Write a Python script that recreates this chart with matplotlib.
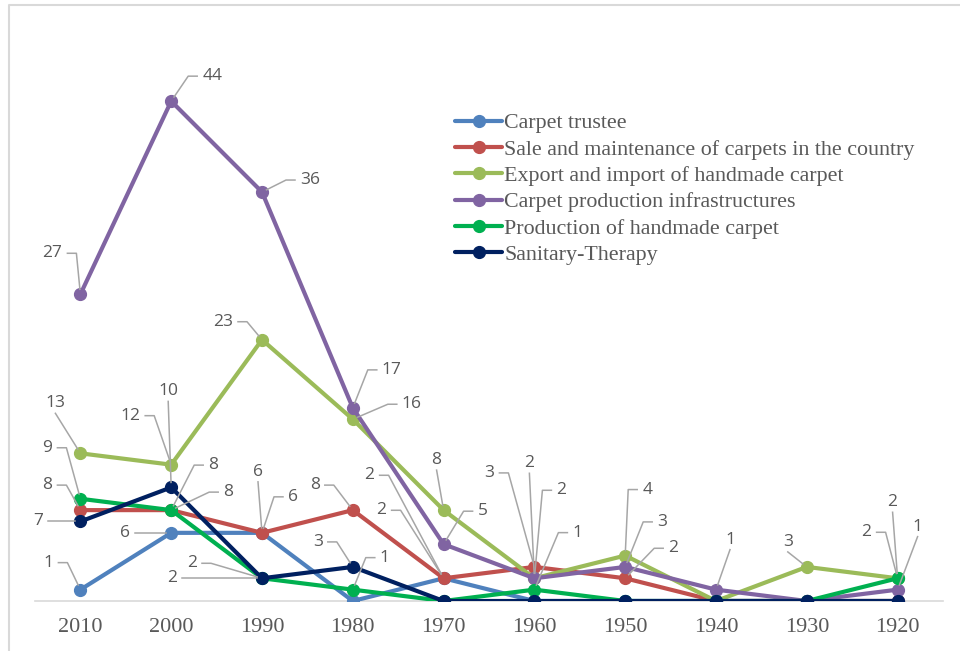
import matplotlib
matplotlib.use('Agg')
import matplotlib.pyplot as plt
from matplotlib.lines import Line2D
from matplotlib.transforms import IdentityTransform
import numpy as np

# 年代 (左新右舊)
years = ['2010', '2000', '1990', '1980', '1970', '1960', '1950', '1940', '1930', '1920']

trustee = [1, 6, 6, 0, 2, 0, 0, 0, 0, 0]
sale = [8, 8, 6, 8, 2, 3, 2, 0, 0, 0]
export = [13, 12, 23, 16, 8, 2, 4, 0, 3, 2]
infra = [27, 44, 36, 17, 5, 2, 3, 1, 0, 1]
production = [9, 8, 2, 1, 0, 1, 0, 0, 0, 2]
sanitary = [7, 10, 2, 3, 0, 0, 0, 0, 0, 0]

names = ['Carpet trustee',
         'Sale and maintenance of carpets in the country',
         'Export and import of handmade carpet',
         'Carpet production infrastructures',
         'Production of handmade carpet',
         'Sanitary-Therapy']

series = [trustee, sale, export, infra, production, sanitary]
colors = ['#4F81BD', '#C0504D', '#9BBB59', '#8064A2', '#00B050', '#002060']

# 數據標籤位置 (序列, 索引, dx, dy 像素, 引線型式)
label_pos = [
    (3, 0, -28, 41, 'h'), (3, 1, 41, 25, 'h'), (3, 2, 48, 12, 'h'), (3, 3, 39, 38, 'h'),
    (3, 4, 39, 33, 'h'), (3, 5, -5, 115, 'v'), (3, 6, 37, 45, 'h'), (3, 7, 14, 50, 'v'),
    (3, 9, 20, 63, 'v'),
    (2, 0, -25, 50, 'v'), (2, 1, -41, 49, 'h'), (2, 2, -39, 18, 'h'), (2, 3, 59, 15, 'h'),
    (2, 4, -7, 50, 'v'), (2, 5, 27, 88, 'h'), (2, 6, 22, 66, 'h'), (2, 8, -19, 25, 'v'),
    (2, 9, -31, 46, 'h'),
    (1, 0, -33, 25, 'h'), (1, 1, 57, 18, 'h'), (1, 2, -4, 61, 'v'), (1, 3, -38, 25, 'h'),
    (1, 4, -74, 103, 'h'), (1, 5, -45, 94, 'h'), (1, 6, 48, 30, 'h'),
    (0, 0, -32, 27, 'h'), (0, 1, -46, 0, 'h'), (0, 2, 31, 36, 'h'), (0, 4, -62, 68, 'h'),
    (4, 0, -33, 51, 'h'), (4, 1, 42, 45, 'h'), (4, 2, -70, 15, 'h'), (4, 3, 32, 32, 'h'),
    (4, 5, 43, 57, 'h'), (4, 9, -5, 76, 'v'),
    (5, 0, -42, 0, 'h'), (5, 1, -3, 96, 'v'), (5, 2, -90, 0, 'h'), (5, 3, -35, 25, 'h'),
]

fig = plt.figure(figsize=(9.6, 6.51), dpi=100)
ax = fig.add_axes([35 / 960, 50 / 651, 908 / 960, 568 / 651])
x = np.arange(len(years))

for vals, name, c in zip(series, names, colors):
    ax.plot(x, vals, color=c, lw=3, marker='o', markersize=8.5, label=name,
            solid_capstyle='round', solid_joinstyle='round')

ax.set_xlim(-0.5, len(years) - 0.5)
ax.set_ylim(0, 50)
ax.set_xticks(x)
ax.set_xticklabels(years, family='Liberation Serif', fontsize=16, color='#595959')
ax.tick_params(axis='x', length=0, pad=12.5)
ax.set_yticks([])
for s in ['top', 'right', 'left']:
    ax.spines[s].set_visible(False)
ax.spines['bottom'].set_color('#D9D9D9')
ax.spines['bottom'].set_linewidth(1.2)
ax.spines['bottom'].set_zorder(0)

leg = ax.legend(loc='upper left', bbox_to_anchor=(455 / 960, 1 - 113 / 651),
                bbox_transform=fig.transFigure, frameon=False, handlelength=2.15,
                handletextpad=0.1, labelspacing=0.27, borderpad=0, borderaxespad=0,
                prop={'family': 'Liberation Serif', 'size': 15.8})
for t in leg.get_texts():
    t.set_color('#595959')

# 數據標籤與引線
gray = '#A6A6A6'
for si, idx, dx, dy, kind in label_pos:
    v = series[si][idx]
    s = str(v)
    px, py = ax.transData.transform((idx, v))
    tx, ty = px + dx, py + dy
    ax.annotate(s, xy=(idx, v), xytext=(dx, dy), textcoords='offset pixels',
                ha='center', va='center', fontsize=12.5, color='#595959',
                family='Open Sans', zorder=10)
    w2 = 5 * len(s) + 1
    if kind == 'h':
        if dx > 0:
            hx = tx - w2 - 4
            ex = hx - 9
        else:
            hx = tx + w2 + 4
            ex = hx + 9
        pts = [(hx, ty), (ex, ty)] if dy != 0 else [(hx, ty)]
    else:
        pts = [(tx, ty - 10)]
    lx, ly = pts[-1]
    d = np.hypot(px - lx, py - ly)
    if d > 6:
        ex2 = px + (lx - px) * 5 / d
        ey2 = py + (ly - py) * 5 / d
    else:
        ex2, ey2 = px, py
    pts.append((ex2, ey2))
    xs, ys = zip(*pts)
    fig.add_artist(Line2D(xs, ys, color=gray, lw=1.1, transform=IdentityTransform(), zorder=9))

# 外框 (只見左與上)
fig.add_artist(Line2D([9 / 960, 9 / 960, 1], [0, 1 - 4.5 / 651, 1 - 4.5 / 651],
                      color='#D9D9D9', lw=1.5, transform=fig.transFigure))

fig.savefig('out.png', dpi=100)
